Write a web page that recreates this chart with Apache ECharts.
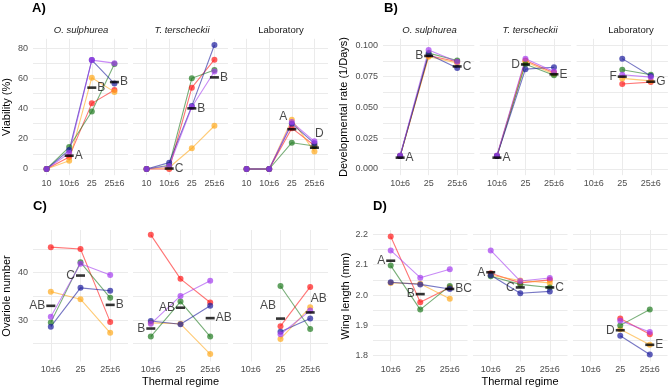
<!DOCTYPE html>
<html>
<head>
<meta charset="utf-8">
<script src="https://cdn.jsdelivr.net/npm/echarts@6.0.0/dist/echarts.min.js"></script>
<style>
  html, body { margin: 0; background: #fff; }
  #chart { width: 669px; height: 390px; }
</style>
</head>
<body>
<div id="chart"></div>
<script>
const FONT = 'Liberation Sans, Arial, sans-serif';

const facetNames = ['O. sulphurea', 'T. terscheckii', 'Laboratory'];
const regimes4 = ['10', '10±6', '25', '25±6'];
const regimes3 = ['10±6', '25', '25±6'];
// line order in every facet: red, orange, green, blue, purple
const lineColors = ['#ff1a1a', '#ffa91c', '#1f7a1f', '#1c1c9c', '#a43cf0'];

// A) viability (%)
const viabSulph = [[0, 8, 43.4, 52.2], [0, 5.5, 60.4, 51], [0, 14.5, 38, 69.5], [0, 12.5, 72, 56.5], [0, 10.5, 72, 70]];
const viabTersch = [[0, 0, 53.8, 72.3], [0, 1, 13.7, 28.6], [0, 2.5, 60, 65.5], [0, 4.2, 41.6, 82], [0, 2, 41, 64.5]];
const viabLab = [[0, 0, 27, 15.5], [0, 0, 32.5, 11.5], [0, 0, 17.4, 15.2], [0, 0, 30, 17], [0, 0, 31, 18.3]];
const viabMeans = [[null, 8.8, 53.8, 57.5], [null, 0.3, 40.1, 60.6], [null, null, 26.3, 14.1]];
const viabLetters = [['', 'A', 'B', 'B'], ['', 'C', 'B', 'B'], ['', '', 'A', 'D']];

// B) developmental rate (1/days)
const rateSulph = [[0.0105, 0.092, 0.087], [0.0105, 0.091, 0.086], [0.0105, 0.094, 0.088], [0.0105, 0.093, 0.082], [0.011, 0.0965, 0.087]];
const rateTersch = [[0.0105, 0.088, 0.078], [0.0105, 0.087, 0.077], [0.0105, 0.085, 0.076], [0.0105, 0.081, 0.0825], [0.011, 0.0895, 0.079]];
const rateLab = [[null, 0.069, 0.0705], [null, 0.0735, 0.0715], [null, 0.0805, 0.0765], [null, 0.0895, 0.0755], [null, 0.0765, 0.0745]];
const rateMeans = [[0.0092, 0.0917, 0.0832], [0.0092, 0.0848, 0.0768], [null, 0.0749, 0.0708]];
const rateLetters = [['A', 'B', 'C'], ['A', 'D', 'E'], ['', 'F', 'G']];

// C) ovariole number
const ovarSulph = [[45.4, 45.0, 29.6], [36.0, 34.4, 27.3], [29.5, 42.2, 34.7], [28.6, 36.8, 36.2], [30.7, 41.9, 39.5]];
const ovarTersch = [[48.0, 38.7, 33.7], [29.4, 29.2, 22.8], [26.5, 33.9, 26.5], [29.8, 29.1, 33.0], [29.2, 35.1, 38.3]];
const ovarLab = [[null, 28.7, 37.0], [null, 26.0, 32.7], [null, 37.2, 28.1], [null, 27.5, 30.3], [null, 27.0, 32.0]];
const ovarMeans = [[33.0, 39.4, 33.2], [28.2, 32.6, 30.4], [null, 30.3, 31.6]];
const ovarLetters = [['AB', 'C', 'B'], ['B', 'AB', 'AB'], ['', 'AB', 'AB']];

// D) wing length (mm)
const wingSulph = [[2.193, 1.976, 2.025], [2.04, 2.037, 1.988], [2.097, 1.952, 2.03], [2.042, 2.035, 2.02], [2.147, 2.057, 2.085]];
const wingTersch = [[2.072, 2.04, 2.05], [2.065, 2.048, 2.04], [2.062, 2.035, 2.025], [2.065, 2.006, 2.012], [2.147, 2.046, 2.056]];
const wingLab = [[null, 1.923, 1.871], [null, 1.887, 1.836], [null, 1.9, 1.952], [null, 1.866, 1.804], [null, 1.915, 1.878]];
const wingMeans = [[2.113, 2.003, 2.02], [2.075, 2.025, 2.025], [null, 1.884, 1.836]];
const wingLetters = [['A', 'B', 'BC'], ['A', 'C', 'C'], ['', 'D', 'E']];

// which side of the mean dash each letter sits on
const letterSide = {
  A: [['', 'r', 'r', 'r'], ['', 'r', 'r', 'r'], ['', '', 'tl', 'tr']],
  B: [['r', 'l', 'r'], ['r', 'l', 'r'], ['', 'l', 'r']],
  C: [['l', 'l', 'r'], ['l', 'l', 'r'], ['', 'tl', 'tr']],
  D: [['l', 'l', 'r'], ['l', 'l', 'r'], ['', 'l', 'r']],
};

const panels = [
  { tag: 'A', cats: regimes4, rows: [viabSulph, viabTersch, viabLab], means: viabMeans, letters: viabLetters,
    left: [33, 133, 233], width: 95, top: 38.8, height: 136.4, min: -4.1, max: 86.1,
    major: [0, 20, 40, 60, 80], minor: [10, 30, 50, 70], fmt: v => String(v) },
  { tag: 'B', cats: regimes3, rows: [rateSulph, rateTersch, rateLab], means: rateMeans, letters: rateLetters,
    left: [383, 479.8, 576.6], width: 91.3, top: 38.8, height: 136.4, min: -0.00503, max: 0.1056,
    major: [0, 0.025, 0.05, 0.075, 0.1], minor: [0.0125, 0.0375, 0.0625, 0.0875], fmt: v => v.toFixed(3) },
  { tag: 'C', cats: regimes3, rows: [ovarSulph, ovarTersch, ovarLab], means: ovarMeans, letters: ovarLetters,
    left: [33, 133, 233], width: 95, top: 230, height: 131.5, min: 21.23, max: 49.03,
    major: [30, 40], minor: [25, 35, 45], fmt: v => String(v) },
  { tag: 'D', cats: regimes3, rows: [wingSulph, wingTersch, wingLab], means: wingMeans, letters: wingLetters,
    left: [373, 473, 573], width: 94.5, top: 230, height: 131.5, min: 1.781, max: 2.2142,
    major: [1.8, 1.9, 2.0, 2.1, 2.2], minor: [1.85, 1.95, 2.05, 2.15], fmt: v => v.toFixed(1) },
];

const gridLine = { color: '#ebebeb', width: 1 };
const tickText = { fontSize: 9, color: '#4d4d4d', fontFamily: FONT };

function sideLabel(s) {
  if (s === 'l') return { position: 'left', distance: 1 };
  if (s === 'r') return { position: 'right', distance: 1 };
  if (s === 'tl') return { position: 'left', distance: 0, offset: [0, -13] };
  return { position: 'right', distance: 0, offset: [-4, -14] };
}

const grids = [], xAxes = [], yAxes = [], series = [];

panels.forEach((p, pi) => {
  p.rows.forEach((rows, fi) => {
    const g = pi * 3 + fi;
    const idx = p.cats.map((c, i) => i);
    grids.push({ left: p.left[fi], top: p.top, width: p.width, height: p.height });
    xAxes.push({
      type: 'value', gridIndex: g, min: -0.6, max: p.cats.length - 0.4,
      axisLine: { show: false },
      axisTick: { show: false, customValues: idx },
      axisLabel: Object.assign({ customValues: idx, margin: 4, formatter: v => p.cats[v] }, tickText),
      splitLine: { show: true, lineStyle: gridLine },
    });
    yAxes.push({
      type: 'value', gridIndex: g, min: p.min, max: p.max,
      axisLine: { show: false },
      axisTick: { show: false, customValues: p.major.concat(p.minor) },
      axisLabel: Object.assign({ show: fi === 0, customValues: p.major, margin: 5, formatter: p.fmt }, tickText),
      splitLine: { show: true, lineStyle: gridLine },
    });
    rows.forEach((vals, li) => {
      series.push({
        type: 'line', xAxisIndex: g, yAxisIndex: g,
        data: vals.map((v, i) => (v == null ? null : [i, v])).filter(Boolean),
        symbol: 'circle', symbolSize: 6,
        color: lineColors[li],
        itemStyle: { opacity: 0.7 },
        lineStyle: { width: 1.1, opacity: 0.6 },
        z: 2, silent: true,
      });
    });
    series.push({
      type: 'scatter', xAxisIndex: g, yAxisIndex: g,
      symbol: 'rect', symbolSize: [9, 2.6],
      itemStyle: { color: '#000' },
      data: p.means[fi].map((v, i) => (v == null ? null : {
        name: p.letters[fi][i], value: [i, v],
        label: sideLabel(letterSide[p.tag][fi][i]),
      })).filter(Boolean),
      label: { show: true, formatter: '{b}', fontSize: 12, color: '#1a1a1a', fontFamily: FONT },
      z: 5, silent: true,
    });
  });
});

// texts: tags, facet strips, axis titles
const graphic = [];
const tagPos = { A: [32, 2], B: [384, 2], C: [33, 200], D: [373, 200] };
Object.keys(tagPos).forEach(t => {
  graphic.push({ type: 'text', x: tagPos[t][0], y: tagPos[t][1],
    style: { text: t + ')', font: 'bold 13px ' + FONT, fill: '#000' } });
});
const stripX = [[81, 182, 281], [429.5, 530, 631]];
stripX.forEach(xs => xs.forEach((x, i) => {
  graphic.push({ type: 'text', x: x, y: 30,
    style: { text: facetNames[i], font: (i < 2 ? 'italic ' : '') + '9.5px ' + FONT, fill: '#1a1a1a',
      textAlign: 'center', textVerticalAlign: 'middle' } });
}));
const yTitles = [['Viability (%)', 7, 107], ['Developmental rate (1/Days)', 344, 107],
  ['Ovariole number', 7, 296], ['Wing length (mm)', 346, 296]];
yTitles.forEach(t => {
  graphic.push({ type: 'text', x: t[1], y: t[2], rotation: Math.PI / 2,
    style: { text: t[0], font: '11px ' + FONT, fill: '#000', textAlign: 'center', textVerticalAlign: 'middle' } });
});
[180.5, 520].forEach(x => {
  graphic.push({ type: 'text', x: x, y: 382,
    style: { text: 'Thermal regime', font: '11px ' + FONT, fill: '#000', textAlign: 'center', textVerticalAlign: 'middle' } });
});

const myChart = echarts.init(document.getElementById('chart'));
myChart.setOption({
  animation: false,
  grid: grids,
  xAxis: xAxes,
  yAxis: yAxes,
  series: series,
  graphic: graphic,
});
</script>
</body>
</html>
